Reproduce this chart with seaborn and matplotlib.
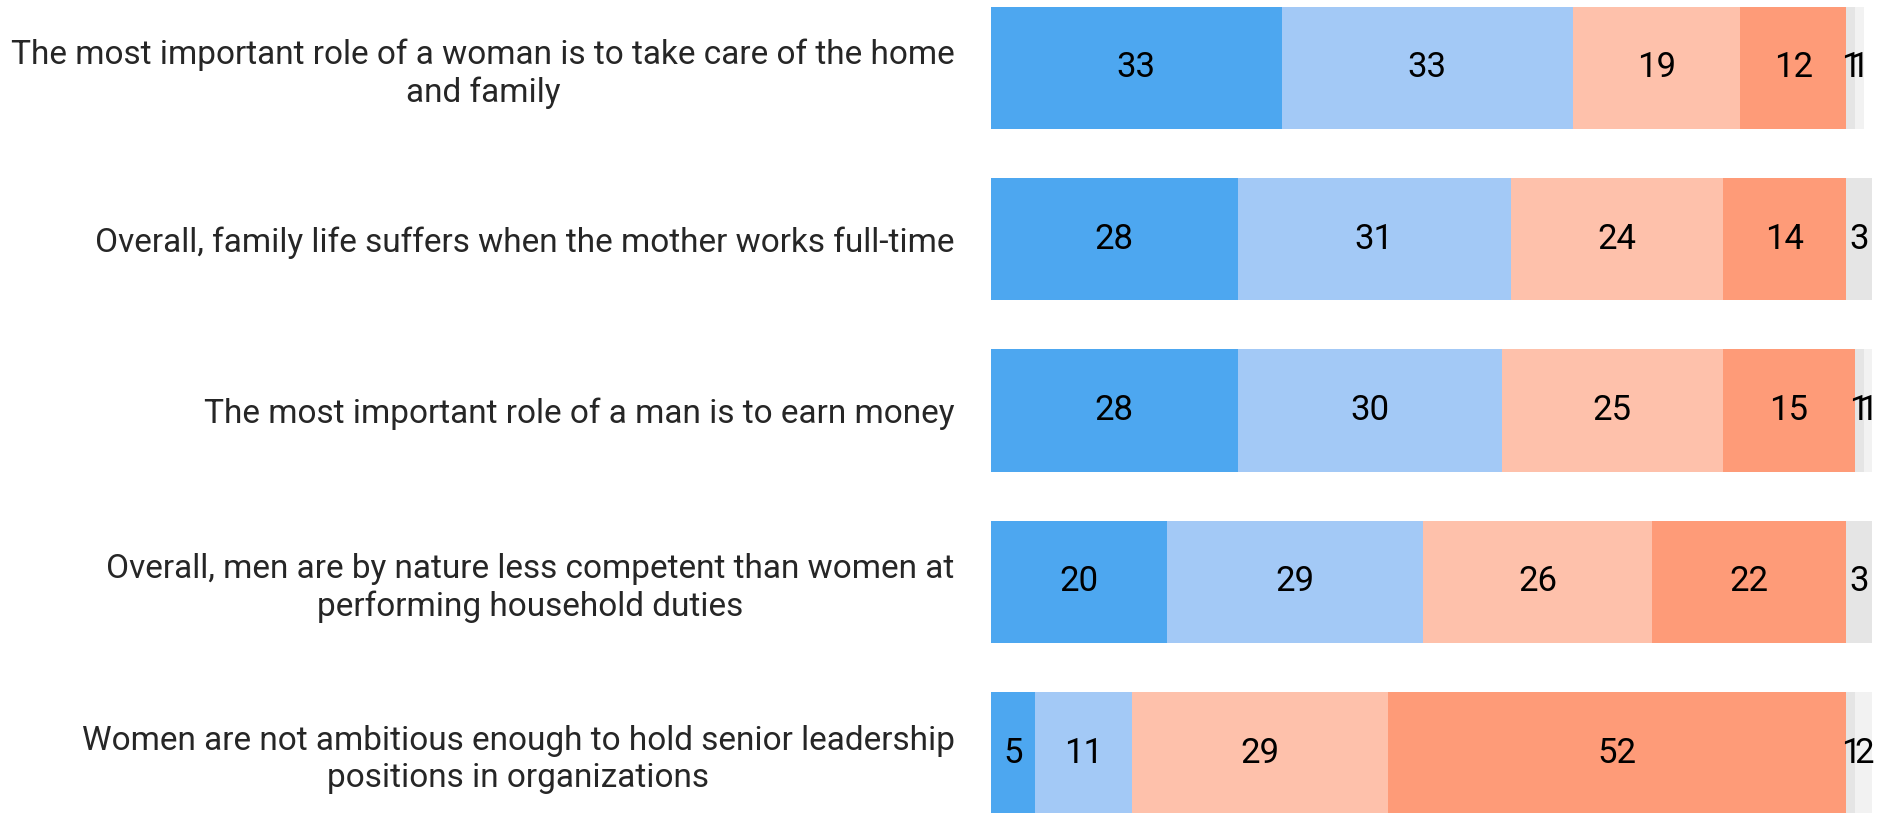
import numpy as np
import pandas as pd
import matplotlib
matplotlib.use("Agg")
import matplotlib.pyplot as plt
import seaborn as sns

statements = [
    "The most important role of a woman is to take care of the home\nand family",
    "Overall, family life suffers when the mother works full-time",
    "The most important role of a man is to earn money",
    "Overall, men are by nature less competent than women at\nperforming household duties",
    "Women are not ambitious enough to hold senior leadership\npositions in organizations",
]
strongly_agree = [33, 28, 28, 20, 5]
agree = [33, 31, 30, 29, 11]
disagree = [19, 24, 25, 26, 29]
strongly_disagree = [12, 14, 15, 22, 52]
dont_know = [1, 3, 1, 3, 1]
no_answer = [1, 0, 1, 0, 2]

series = [strongly_agree, agree, disagree, strongly_disagree, dont_know, no_answer]
colors = ["#4da7f0", "#a3c9f6", "#fec1ab", "#fe9b78", "#e5e5e5", "#f2f2f2"]

sns.set_style("white")
plt.rcParams["font.family"] = ["Roboto", "DejaVu Sans"]

fig = plt.figure(figsize=(18.8, 8.13), dpi=100)
ax = fig.add_axes([0.527, 0.0, 0.469, 1.0])

vals = np.array(series, dtype=float)
cum = np.cumsum(vals, axis=0)
pos = list(range(len(statements)))

# stacked bars: draw cumulative totals from the outermost inwards
for i in range(len(series) - 1, -1, -1):
    df = pd.DataFrame({"y": pos, "x": cum[i]})
    sns.barplot(data=df, x="x", y="y", orient="h", color=colors[i],
                width=0.714, saturation=1, linewidth=0, ax=ax, native_scale=True)

for i in range(len(series)):
    for j in pos:
        v = vals[i, j]
        if v <= 0:
            continue
        ax.text(cum[i, j] - v / 2, j, f"{int(v)}", ha="center", va="center",
                fontsize=25, color="black")

ax.set_xlim(0, 100)
ax.set_ylim(4.35, -0.397)
ax.set_yticks(pos)
ax.set_yticklabels(statements, fontsize=24)
for lbl in ax.get_yticklabels():
    lbl.set_multialignment("center")
ax.tick_params(axis="y", length=0, pad=26)
ax.set_xticks([])
ax.set_xlabel("")
ax.set_ylabel("")
sns.despine(ax=ax, left=True, bottom=True)

fig.savefig("out.png", dpi=100)
